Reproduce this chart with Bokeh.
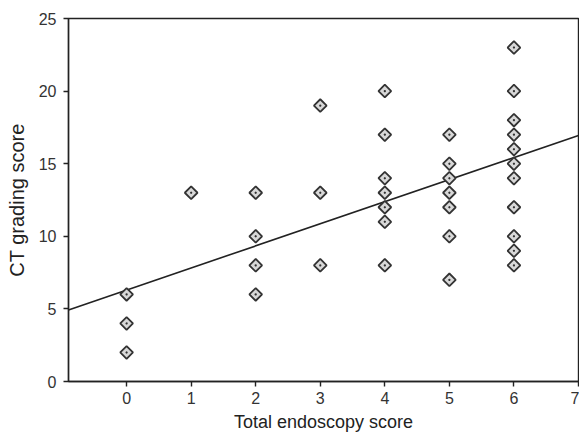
import math
from bokeh.plotting import figure
from bokeh.models import FixedTicker, Range1d
from bokeh.embed import file_html
from bokeh.resources import INLINE

endo_x = [0, 0, 0,
          1,
          2, 2, 2, 2,
          3, 3, 3,
          4, 4, 4, 4, 4, 4, 4,
          5, 5, 5, 5, 5, 5, 5,
          6, 6, 6, 6, 6, 6, 6, 6, 6, 6, 6]
ct_y = [2, 4, 6,
        13,
        6, 8, 10, 13,
        8, 13, 19,
        8, 11, 12, 13, 14, 17, 20,
        7, 10, 12, 13, 14, 15, 17,
        8, 9, 10, 12, 14, 15, 16, 17, 18, 20, 23]

fit_intercept = 6.3
fit_slope = 1.52
fit_x = [-0.9, 7.0]
fit_y = [fit_intercept + fit_slope * v for v in fit_x]

x_ticks = [0, 1, 2, 3, 4, 5, 6, 7]
y_ticks = [0, 5, 10, 15, 20, 25]

p = figure(width=579, height=439, output_backend="svg", toolbar_location=None,
           x_range=Range1d(-0.9, 7.0), y_range=Range1d(0, 25),
           min_border_left=68, min_border_right=1, min_border_top=18, min_border_bottom=58)
p.background_fill_color = "white"
p.border_fill_color = "white"
p.outline_line_color = "#222222"
p.outline_line_width = 1.4
p.xgrid.visible = False
p.ygrid.visible = False

p.line(fit_x, fit_y, line_color="#222222", line_width=1.6)
p.scatter(endo_x, ct_y, marker="square_dot", angle=math.pi / 4, size=9,
          fill_color="#d8d8d8", line_color="#333333", line_width=1.8)

for ax in (p.xaxis[0], p.yaxis[0]):
    ax.axis_line_color = "#222222"
    ax.axis_line_width = 1.4
    ax.major_tick_line_color = "#222222"
    ax.major_tick_line_width = 1.4
    ax.major_tick_out = 5
    ax.major_tick_in = 0
    ax.minor_tick_line_color = None
    ax.major_label_text_font = "Liberation Sans"
    ax.major_label_text_font_size = "16px"
    ax.major_label_text_color = "#333333"
    ax.axis_label_text_font = "Liberation Sans"
    ax.axis_label_text_font_style = "normal"
    ax.axis_label_text_color = "#222222"

p.xaxis.axis_label_text_font_size = "18px"
p.yaxis.axis_label_text_font_size = "20px"
p.xaxis.ticker = FixedTicker(ticks=x_ticks)
p.yaxis.ticker = FixedTicker(ticks=y_ticks)
p.xaxis.axis_label = "Total endoscopy score"
p.yaxis.axis_label = "CT grading score"
p.xaxis.major_label_standoff = 5
p.yaxis.major_label_standoff = 7
p.xaxis.axis_label_standoff = 5
p.yaxis.axis_label_standoff = 8

open("out.html", "w").write(file_html(p, INLINE))
